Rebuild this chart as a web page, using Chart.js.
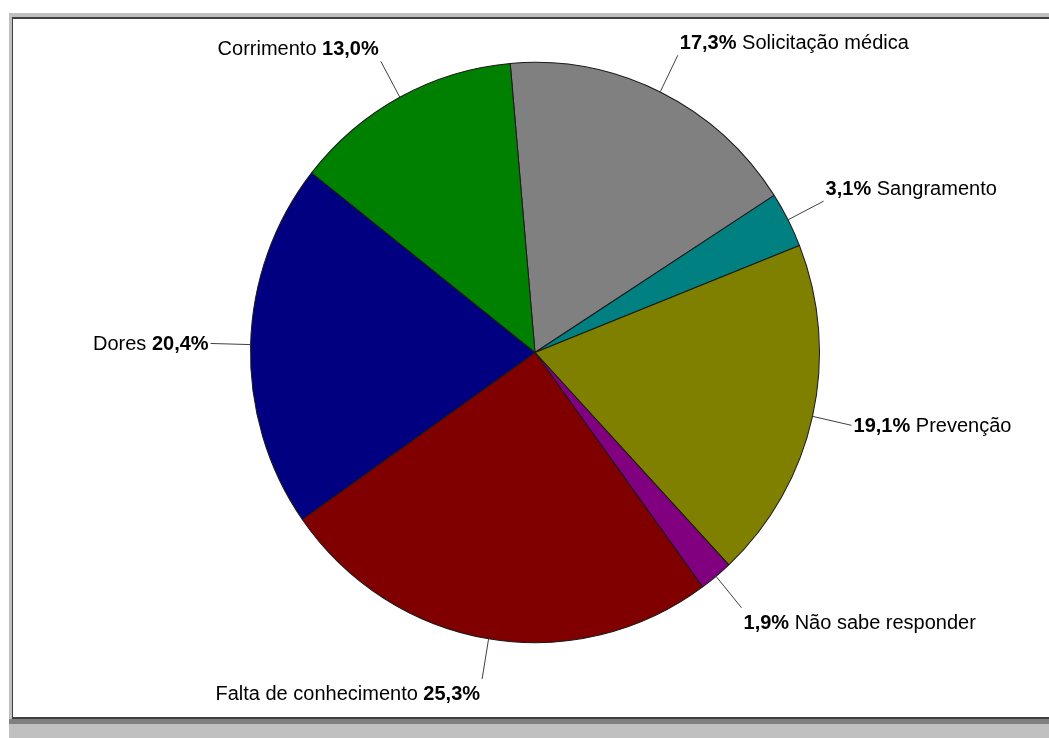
<!DOCTYPE html>
<html>
<head>
<meta charset="utf-8">
<title>Motivos da consulta</title>
<script src="https://cdn.jsdelivr.net/npm/chart.js@4/dist/chart.umd.min.js"></script>
<style>
  html, body { margin: 0; padding: 0; background: #ffffff; }
  #wrap { width: 1049px; height: 738px; }
</style>
</head>
<body>
<div id="wrap"><canvas id="pie" width="1049" height="738"></canvas></div>
<script>
// Categories, clockwise from the top
const categories = [
  'Solicitação médica',
  'Sangramento',
  'Prevenção',
  'Não sabe responder',
  'Falta de conhecimento',
  'Dores',
  'Corrimento'
];
// Share of answers (%)
const shares = [17.3, 3.1, 19.1, 1.9, 25.3, 20.4, 13.0];
const sliceColors = ['#808080', '#008080', '#808000', '#800080', '#800000', '#000080', '#008000'];

const FONT = '"Liberation Sans", Arial, Helvetica, sans-serif';
const Y_STRETCH = 1.02;   // pie is drawn slightly taller than wide
const LEADER = 40;        // leader line length outside the rim

// Panel background with shadowed frame
const framePlugin = {
  id: 'frame',
  beforeDraw(chart) {
    const c = chart.ctx;
    c.save();
    c.fillStyle = '#ffffff';
    c.fillRect(0, 0, chart.width, chart.height);
    c.fillStyle = '#c0c0c0';
    c.fillRect(9, 13, chart.width - 9, chart.height - 13);
    c.fillStyle = '#808080';
    c.fillRect(9, 719, chart.width - 9, 5);
    c.fillStyle = '#404040';
    c.fillRect(12, 17, chart.width - 12, 702);
    c.fillStyle = '#ffffff';
    c.fillRect(13, 19, chart.width - 13, 698);
    c.restore();
  }
};

// Vertical stretch around the pie centre
const stretchPlugin = {
  id: 'stretch',
  beforeDatasetsDraw(chart) {
    const arc = chart.getDatasetMeta(0).data[0];
    const c = chart.ctx;
    c.save();
    c.translate(arc.x, arc.y);
    c.scale(1, Y_STRETCH);
    c.translate(-arc.x, -arc.y);
  },
  afterDatasetsDraw(chart) {
    chart.ctx.restore();
  }
};

// Outside labels with leader lines
const labelPlugin = {
  id: 'sliceLabels',
  afterDatasetsDraw(chart) {
    const c = chart.ctx;
    const meta = chart.getDatasetMeta(0);
    const values = chart.data.datasets[0].data;
    c.save();
    meta.data.forEach((arc, i) => {
      const mid = (arc.startAngle + arc.endAngle) / 2;
      const ux = Math.cos(mid), uy = Math.sin(mid);
      const r = arc.outerRadius;
      const sx = arc.x + r * ux, sy = arc.y + r * uy * Y_STRETCH;
      const ex = arc.x + (r + LEADER) * ux, ey = arc.y + (r + LEADER) * uy * Y_STRETCH;

      c.strokeStyle = '#404040';
      c.lineWidth = 1;
      c.beginPath();
      c.moveTo(sx, sy);
      c.lineTo(ex, ey);
      c.stroke();

      const name = chart.data.labels[i];
      const pct = values[i].toFixed(1).replace('.', ',') + '%';
      const normalFont = '20px ' + FONT;
      const boldFont = 'bold 20px ' + FONT;
      const leftSide = ux < 0;
      const parts = leftSide
        ? [[name + ' ', normalFont], [pct, boldFont]]
        : [[pct, boldFont], [' ' + name, normalFont]];
      let total = 0;
      parts.forEach(p => { c.font = p[1]; p.push(c.measureText(p[0]).width); total += p[2]; });

      let baseline;
      if (uy < -0.3) baseline = ey - 6;
      else if (uy > 0.3) baseline = ey + 21;
      else baseline = ey + 7;
      let x = leftSide ? ex - 2 - total : ex + 2;

      c.fillStyle = '#000000';
      c.textAlign = 'left';
      c.textBaseline = 'alphabetic';
      parts.forEach(p => {
        c.font = p[1];
        c.fillText(p[0], x, baseline);
        x += p[2];
      });
    });
    c.restore();
  }
};

new Chart(document.getElementById('pie'), {
  type: 'pie',
  data: {
    labels: categories,
    datasets: [{
      data: shares,
      backgroundColor: sliceColors,
      borderColor: '#1a1a1a',
      borderWidth: 1
    }]
  },
  options: {
    responsive: false,
    animation: false,
    rotation: -5,
    layout: { padding: { left: 250, right: 229, top: 67.5, bottom: 100.5 } },
    plugins: {
      legend: { display: false },
      tooltip: { enabled: false }
    },
    events: []
  },
  plugins: [framePlugin, stretchPlugin, labelPlugin]
});
</script>
</body>
</html>
